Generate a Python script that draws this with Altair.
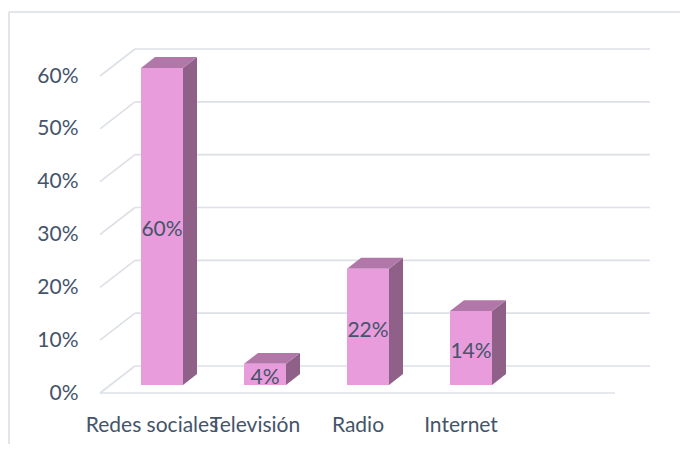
import json
import altair as alt
import pandas as pd

# ---- data ----
categories = ["Redes sociales", "Televisión", "Radio", "Internet"]
values = [0.60, 0.04, 0.22, 0.14]
value_labels = ["60%", "4%", "22%", "14%"]
y_ticks = [0.0, 0.1, 0.2, 0.3, 0.4, 0.5, 0.6]
n_slots = 5  # the category axis has one empty slot at the right

# ---- styling / geometry constants (pixels) ----
W, H = 515, 317            # front plane of the plot
Y_MAX = 0.6
UX = n_slots / W           # data units per pixel (x)
UY = Y_MAX / H             # data units per pixel (y)
DEPTH_X, DEPTH_Y = 35, 27  # 3-D depth of the floor / walls
BAR_W = 42
F_DX, F_DY = 0.3 * DEPTH_X, 0.3 * DEPTH_Y   # bar front plane
B_DX, B_DY = 0.7 * DEPTH_X, 0.7 * DEPTH_Y   # bar back plane

FONT = "Lato"
FS = 21
TXT = "#44546A"
GRID = "#DDE0E6"
FRONT = "#E89CDB"
SIDE = "#8F6189"
TOP = "#B277A9"

# ---- tables built from the arrays ----
rules = []
for t in y_ticks:
    # back-wall gridline
    rules.append(dict(x=DEPTH_X * UX, x2=n_slots + DEPTH_X * UX,
                      y=t + DEPTH_Y * UY, y2=t + DEPTH_Y * UY))
    # side-wall diagonal
    rules.append(dict(x=0, x2=DEPTH_X * UX, y=t, y2=t + DEPTH_Y * UY))
# front edge of the floor
rules.append(dict(x=0, x2=n_slots, y=0, y2=0))
rules_df = pd.DataFrame(rules)

front_rows, side_rows, top_rows, lab_rows = [], [], [], []
for i, (c, v, lab) in enumerate(zip(categories, values, value_labels)):
    xc = i + 0.5 + F_DX * UX
    hw = BAR_W / 2 * UX
    ddx = (B_DX - F_DX) * UX
    front_rows.append(dict(cat=c, x=xc - hw, x2=xc + hw,
                           y=F_DY * UY, y2=v + F_DY * UY))
    side_rows.append(dict(cat=c, x=xc + hw, lo=F_DY * UY, hi=v + F_DY * UY))
    side_rows.append(dict(cat=c, x=xc + hw + ddx, lo=B_DY * UY, hi=v + B_DY * UY))
    top_rows.append(dict(cat=c, y=v + F_DY * UY, xl=xc - hw, xr=xc + hw))
    top_rows.append(dict(cat=c, y=v + B_DY * UY, xl=xc - hw + ddx, xr=xc + hw + ddx))
    lab_rows.append(dict(cat=c, x=i + 0.5, y=v / 2, label=lab))

front_df = pd.DataFrame(front_rows)
side_df = pd.DataFrame(side_rows)
top_df = pd.DataFrame(top_rows)
lab_df = pd.DataFrame(lab_rows)

xscale = alt.Scale(domain=[0, n_slots], nice=False, zero=False)
yscale = alt.Scale(domain=[0, Y_MAX], nice=False)

label_expr = json.dumps(categories) + "[floor(datum.value)]"
xaxis = alt.Axis(values=[i + 0.5 for i in range(len(categories))],
                 labelExpr=label_expr, title=None, grid=False, domain=False,
                 ticks=False, tickSize=0, labelPadding=21, labelFont=FONT,
                 labelFontSize=FS, labelColor=TXT, labelOverlap=False,
                 labelFlush=False, labelBound=False)
yaxis = alt.Axis(values=y_ticks, format=".0%", title=None, grid=False,
                 domain=False, ticks=False, tickSize=0, labelPadding=22,
                 labelFont=FONT, labelFontSize=FS, labelColor=TXT,
                 labelOverlap=False, labelFlush=False)


def X(f):
    return alt.X(f, type="quantitative", scale=xscale, axis=xaxis)


def Y(f):
    return alt.Y(f, type="quantitative", scale=yscale, axis=yaxis)


grid = alt.Chart(rules_df).mark_rule(color=GRID, strokeWidth=1.6).encode(
    x=X("x"), x2="x2", y=Y("y"), y2="y2")

side = alt.Chart(side_df).mark_area(color=SIDE, opacity=1, orient="vertical").encode(
    x=X("x"), y=Y("hi"), y2="lo", detail="cat:N")

top = alt.Chart(top_df).mark_area(color=TOP, opacity=1, orient="horizontal").encode(
    y=Y("y"), x=X("xl"), x2="xr", detail="cat:N")

front = alt.Chart(front_df).mark_rect(color=FRONT).encode(
    x=X("x"), x2="x2", y=Y("y"), y2="y2")

text = alt.Chart(lab_df).mark_text(font=FONT, fontSize=FS, color=TXT,
                                   dx=F_DX, dy=-F_DY + 4, baseline="middle",
                                   align="center").encode(
    x=X("x"), y=Y("y"), text="label:N")

one = alt.Data(values=[{"k": 1}])
frame_top = alt.Chart(one).mark_rule(color="#D9DDE3", strokeWidth=1.5).encode(
    x=alt.value(-91), x2=alt.value(W + 70), y=alt.value(-64))
frame_left = alt.Chart(one).mark_rule(color="#D9DDE3", strokeWidth=1.5).encode(
    x=alt.value(-91), y=alt.value(-64), y2=alt.value(H + 60))

chart = alt.layer(grid, side, top, front, text, frame_top, frame_left).properties(
    width=W, height=H,
    autosize=alt.AutoSizeParams(type="none"),
    padding={"left": 92, "top": 68, "right": 65, "bottom": 51},
    background="white",
).configure_view(stroke=None)

chart.save("out.html", embed_options={"renderer": "svg", "actions": False})
